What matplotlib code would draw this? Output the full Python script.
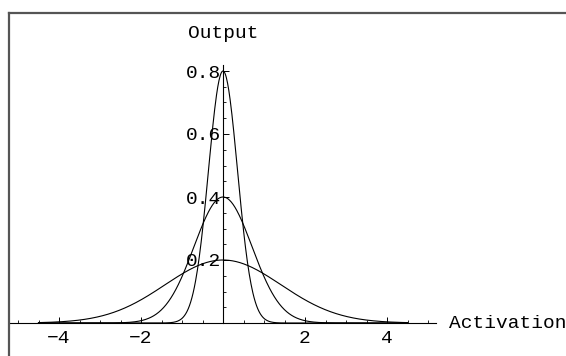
import numpy as np
import matplotlib
matplotlib.use('Agg')
import matplotlib.pyplot as plt
from matplotlib.lines import Line2D
from matplotlib.ticker import FixedLocator, FormatStrFormatter

matplotlib.rcParams['font.family'] = 'Liberation Mono'

# ===== DATA =====
peaks = [0.2, 0.4, 0.8]        # curve heights at activation 0
widths = [2.0, 1.0, 0.5]       # half-widths where curve drops to peak/e
x_start, x_end = -4.5, 4.5
x_ticks = [-4, -2, 2, 4]
y_ticks = [0.2, 0.4, 0.6, 0.8]

fig = plt.figure(figsize=(5.66, 3.56), dpi=100)
fig.patch.set_facecolor('white')
ax = fig.add_axes([0, 0, 1, 1])
ax.set_facecolor('none')

# pixel mapping: x=0 at 223px, 41px/unit; y=0 at 323px, 315px/unit
ax.set_xlim(-223 / 41, (566 - 223) / 41)
ax.set_ylim((323 - 356) / 315, 323 / 315)

x = np.linspace(x_start, x_end, 600)
for h, w in zip(peaks, widths):
    ax.plot(x, h * np.exp(-(x / w) ** 2), color='black', lw=0.8)

# axes through the origin, Mathematica style
for side in ['top', 'right']:
    ax.spines[side].set_visible(False)
ax.spines['bottom'].set_position(('data', 0))
ax.spines['left'].set_position(('data', 0))
ax.spines['bottom'].set_bounds(-5.2, 5.2)
ax.spines['left'].set_bounds(0, 0.82)
for side in ['bottom', 'left']:
    ax.spines[side].set_linewidth(0.8)
    ax.spines[side].set_color('black')

ax.xaxis.set_major_locator(FixedLocator(x_ticks))
ax.xaxis.set_minor_locator(FixedLocator(np.arange(-5, 5.01, 0.5)))
ax.yaxis.set_major_locator(FixedLocator(y_ticks))
ax.yaxis.set_minor_locator(FixedLocator(np.arange(0.05, 0.81, 0.05)))
ax.yaxis.set_major_formatter(FormatStrFormatter('%.1f'))
ax.tick_params(axis='both', which='major', direction='in', length=4, width=0.7,
               labelsize=14, color='black')
ax.tick_params(axis='both', which='minor', direction='in', length=2, width=0.6,
               color='black')
ax.tick_params(axis='x', which='major', pad=5)
ax.tick_params(axis='y', which='major', pad=1)

# axis labels
ax.text(0, (323 - 34) / 315, 'Output', ha='center', va='center', fontsize=14)
ax.text((449 - 223) / 41, 0, 'Activation', ha='left', va='center', fontsize=14)

# outer frame (top and left edges visible)
fig.add_artist(Line2D([8.5 / 566, 8.5 / 566], [0, 1 - 13 / 356],
                      transform=fig.transFigure, color='#555555', lw=1.6))
fig.add_artist(Line2D([8.5 / 566, 1], [1 - 13 / 356, 1 - 13 / 356],
                      transform=fig.transFigure, color='#555555', lw=1.6))

plt.savefig('out.png', dpi=100, facecolor='white')
plt.close()
